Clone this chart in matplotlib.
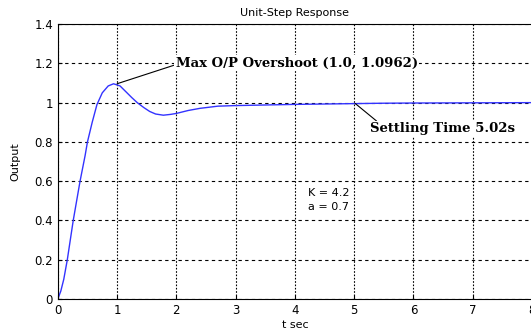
import matplotlib
matplotlib.use("Agg")
import matplotlib.pyplot as plt

# step response samples (time in s, output)
t = [0.0, 0.05, 0.1, 0.16, 0.26, 0.375, 0.46, 0.5, 0.58, 0.66, 0.75, 0.85,
     0.94, 1.05, 1.15, 1.25, 1.34, 1.45, 1.55, 1.65, 1.78, 1.9, 2.0, 2.2,
     2.4, 2.7, 3.0, 3.5, 4.0, 4.5, 5.0, 5.5, 6.0, 7.0, 8.0]
y = [0.0, 0.04, 0.1, 0.2, 0.4, 0.6, 0.73, 0.8, 0.9, 0.99, 1.05, 1.085,
     1.096, 1.085, 1.055, 1.025, 1.0, 0.975, 0.955, 0.942, 0.936, 0.94, 0.945, 0.96,
     0.971, 0.982, 0.985, 0.988, 0.991, 0.993, 0.995, 0.997, 0.998, 0.999, 1.0]

peak_t, peak_y = 1.0, 1.0962
settle_t, settle_y = 5.02, 0.995
K = 4.2
a = 0.7

xticks = [0, 1, 2, 3, 4, 5, 6, 7, 8]
yticks = [0, 0.2, 0.4, 0.6, 0.8, 1.0, 1.2, 1.4]
yticklabels = ['0', '0.2', '0.4', '0.6', '0.8', '1', '1.2', '1.4']

fig = plt.figure(figsize=(5.31, 3.30), dpi=100)
ax = fig.add_axes([0.1089, 0.094, 0.893, 0.833])

ax.plot(t, y, color='#3333ff', linewidth=1.0)

ax.set_xlim(0, 8)
ax.set_ylim(0, 1.4)
ax.set_xticks(xticks)
ax.set_yticks(yticks)
ax.set_yticklabels(yticklabels)
ax.tick_params(direction='in', length=3, labelsize=8.5, colors='black')

ax.xaxis.grid(True, color='black', linestyle=(0, (1.5, 1.5)), linewidth=0.8)
ax.yaxis.grid(True, color='black', linestyle=(0, (3, 3)), linewidth=0.8)
ax.set_axisbelow(True)

for side in ['left', 'bottom', 'top', 'right']:
    ax.spines[side].set_color('black')
    ax.spines[side].set_linewidth(0.8)

ax.set_title('Unit-Step Response', fontsize=8, pad=6)
ax.set_xlabel('t sec', fontsize=8, labelpad=2)
ax.set_ylabel('Output', fontsize=8, labelpad=10)

serif = ['DejaVu Serif']
box = dict(facecolor='white', edgecolor='none', pad=1)
ax.annotate(f'Max O/P Overshoot ({peak_t:.1f}, {peak_y})', xy=(peak_t, peak_y),
            xytext=(1.99, 1.2), fontsize=9.5, fontweight='bold', family=serif,
            va='center', ha='left', bbox=box,
            arrowprops=dict(arrowstyle='-', color='black', lw=0.8,
                            shrinkA=0, shrinkB=0, relpos=(0, 0.4)))
ax.annotate(f'Settling Time {settle_t}s', xy=(settle_t, settle_y),
            xytext=(5.26, 0.866), fontsize=9.5, fontweight='bold', family=serif,
            va='center', ha='left', bbox=box,
            arrowprops=dict(arrowstyle='-', color='black', lw=0.8,
                            shrinkA=0, shrinkB=0, relpos=(0.06, 1)))

ax.text(4.22, 0.541, f'K = {K}', fontsize=8, va='center', ha='left')
ax.text(4.22, 0.47, f'a = {a}', fontsize=8, va='center', ha='left')

fig.savefig('out.png', dpi=100)
